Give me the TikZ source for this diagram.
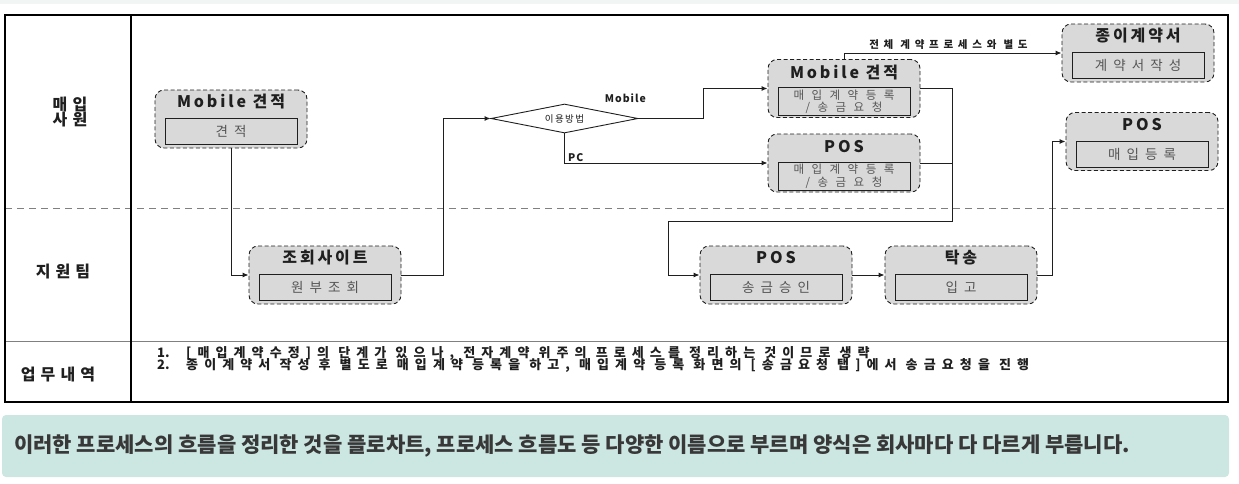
\documentclass[tikz,border=0pt]{standalone}
\usepackage{fontspec}
\setmainfont{Noto Sans CJK KR}
\usetikzlibrary{shapes.geometric, arrows.meta, positioning, calc}
\definecolor{fcInk}{HTML}{1F1F1F}
\definecolor{fcFill}{HTML}{D9D9D9}
\definecolor{fcText}{HTML}{555555}
\definecolor{fcRule}{HTML}{808080}
\definecolor{fcBand}{HTML}{CCE6E2}
\definecolor{fcTop}{HTML}{F1F6F5}
\definecolor{fcCap}{HTML}{383838}
\newcommand{\fsz}[2][1.15]{\fontsize{#2}{#1\dimexpr #2pt\relax}\selectfont}
\tikzset{
  grpbox/.style={draw=fcInk, fill=fcFill, dash pattern=on 4pt off 2.5pt, line width=0.9pt,
                 rounded corners=9pt, minimum width=152pt, minimum height=58pt, inner sep=0pt},
  grptitle/.style={font=\fsz{16}\bfseries\addfontfeature{LetterSpace=18}, text=fcInk, inner sep=0pt},
  grpbody/.style={draw=fcInk, fill=fcFill, line width=0.9pt, minimum width=132pt, minimum height=26pt,
                  inner sep=0pt, align=center, text=fcText, font=\fsz[1.0]{13.5}\addfontfeature{LetterSpace=45}},
  twoline/.style={minimum height=28pt, font=\fontsize{11.5}{12.5}\selectfont\addfontfeature{LetterSpace=65}},
  decide/.style={diamond, draw=fcInk, line width=0.9pt, fill=white, aspect=5, minimum width=147pt,
                 minimum height=29pt, inner sep=0pt, text=fcInk, font=\fsz{9.5}\addfontfeature{LetterSpace=15}},
  lane/.style={font=\fsz[0.97]{16}\bfseries\addfontfeature{LetterSpace=32}, align=center, text=fcInk},
  lbl/.style={font=\fsz{10.5}\bfseries\addfontfeature{LetterSpace=10}, inner sep=1pt, text=fcInk},
  note/.style={font=\fsz{13}\bfseries\addfontfeature{LetterSpace=47}, anchor=base west, inner sep=0pt, text=fcInk},
  captext/.style={font=\fsz{21}\bfseries, text=fcCap, anchor=west, inner sep=0pt},
  wire/.style={draw=fcInk, line width=1pt},
  arr/.style={wire, -{Latex[length=6pt,width=5pt]}},
}

\begin{document}
\begin{tikzpicture}[x=1pt, y=-1pt]
\useasboundingbox (0,0) rectangle (1239,483);
\fill[fcTop] (0,0) rectangle (1239,4);
\fill[fcBand, rounded corners=4pt] (2,415) rectangle (1229,477);

% swimlanes
\draw[fcRule, line width=1pt, dash pattern=on 7pt off 5pt] (5,208) -- (1228,208);
\draw[fcRule, line width=1pt] (5,341) -- (1228,341);
\draw[black, line width=1.4pt] (131,15) -- (131,402);
\draw[black, line width=1.4pt] (5,15) rectangle (1228,402);
\node[lane] (lnbuy) at (70,112) {매입\\사원};
\node[lane] (lnsup) at (63,272) {지원팀};
\node[lane] (lnjob) at (58,374) {업무내역};

% steps
\node[grpbox] (est) at (231,119) {};
\node[grptitle] (estT) at ($(est.north)+(0,12)$) {Mobile 견적};
\node[grpbody] (estB) at ($(est.north)+(0,42)$) {견적};

\node[grpbox] (site) at (325,275) {};
\node[grptitle] (siteT) at ($(site.north)+(0,12)$) {조회사이트};
\node[grpbody] (siteB) at ($(site.north)+(0,42)$) {원부조회};

\node[decide] (dia) at (564.5,118.5) {이용방법};

\node[grpbox] (mobreq) at (844,88.5) {};
\node[grptitle] (mobreqT) at ($(mobreq.north)+(0,13)$) {Mobile 견적};
\node[grpbody, twoline] (mobreqB) at ($(mobreq.north)+(0,42.5)$) {매입계약등록\\/송금요청};

\node[grpbox] (posreq) at (844,163) {};
\node[grptitle] (posreqT) at ($(posreq.north)+(0,13)$) {POS};
\node[grpbody, twoline] (posreqB) at ($(posreq.north)+(0,42.5)$) {매입계약등록\\/송금요청};

\node[grpbox] (paper) at (1138,53) {};
\node[grptitle] (paperT) at ($(paper.north)+(0,12)$) {종이계약서};
\node[grpbody] (paperB) at ($(paper.north)+(0,42)$) {계약서작성};

\node[grpbox] (posreg) at (1142,141.5) {};
\node[grptitle] (posregT) at ($(posreg.north)+(0,12)$) {POS};
\node[grpbody] (posregB) at ($(posreg.north)+(0,42)$) {매입등록};

\node[grpbox] (posok) at (776,275) {};
\node[grptitle] (posokT) at ($(posok.north)+(0,12)$) {POS};
\node[grpbody] (posokB) at ($(posok.north)+(0,42)$) {송금승인};

\node[grpbox] (ship) at (961,275) {};
\node[grptitle] (shipT) at ($(ship.north)+(0,12)$) {탁송};
\node[grpbody] (shipB) at ($(ship.north)+(0,42)$) {입고};

% flow
\coordinate (jn) at (952,221);
\coordinate (jw) at (668,221);
\draw[arr] (est.south) |- (site.west);
\draw[arr] (site.east) -- ++(42,0) |- (dia.west);
\draw[arr] (dia.east) -- node[lbl, pos=0, anchor=south east, xshift=9pt, yshift=14pt]{Mobile} ++(65,0) |- (mobreq.west);
\draw[arr] (dia.south) |- node[lbl, pos=0.5, anchor=south west, xshift=2pt]{PC} (posreq.west);
\draw[arr] (mobreq.north) |- node[lbl, pos=0.74, above=2pt, font=\fsz{10.5}\bfseries\addfontfeature{LetterSpace=45}]{전체 계약프로세스와 별도} (paper.west);
\draw[arr] (mobreq.east) -| (jn) -- (jw) |- (posok.west);
\draw[wire] (posreq.east) -- (posreq.east -| jn);
\draw[arr] (posok.east) -- (ship.west);
\draw[arr] (ship.east) -- ++(15,0) |- (posreg.west);

% notes
\node[note] (n1) at (157,357) {\makebox[29pt][l]{\addfontfeature{LetterSpace=0}1.}[매입계약수정]의 단계가 있으나, 전자계약 위주의 프로세스를 정리하는 것이므로 생략};
\node[note] (n2) at (157,369) {\makebox[29pt][l]{\addfontfeature{LetterSpace=0}2.}종이계약서 작성 후 별도로 매입계약 등록을 하고, 매입계약 등록 화면의 [송금요청 탭]에서 송금요청을 진행};

\node[captext] (caption) at (14,446) {이러한 프로세스의 흐름을 정리한 것을 플로차트, 프로세스 흐름도 등 다양한 이름으로 부르며 양식은 회사마다 다 다르게 부릅니다.};
\end{tikzpicture}
\end{document}
